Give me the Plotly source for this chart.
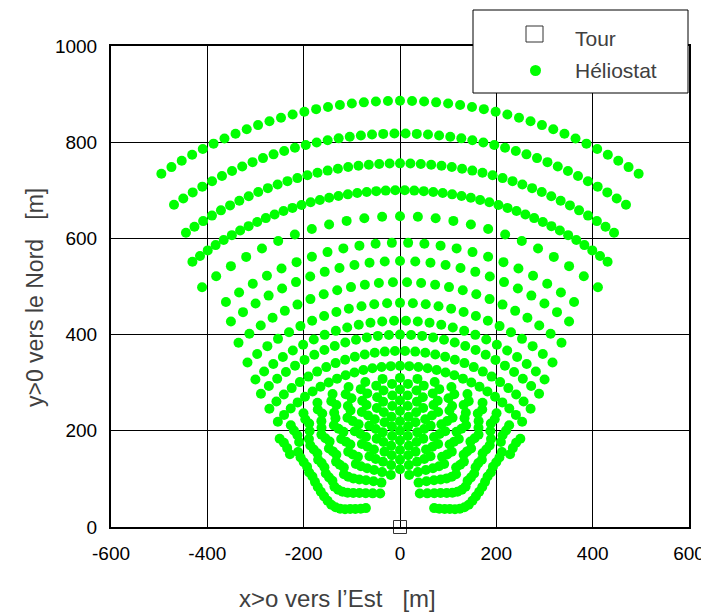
import numpy as np
import plotly.graph_objects as go

# ---- Heliostat field ----
# each row: radius from the tower [m], half angular extent from North [deg],
# number of heliostats in the row, central gap half-angle [deg]
ROW_RADIUS = [886, 818, 756, 700,
              646, 591, 553, 509, 466, 429, 400, 366, 335,
              310, 298, 286, 274, 263, 252, 241, 230, 220, 210, 200, 190, 180, 170,
              160, 150, 140, 130, 120, 110, 100, 90, 81]
ROW_HALF_ANGLE = [34.0, 35.0, 36.0, 38.0,
                  39.5, 37.7, 39.4, 41.2, 42.8, 44.4, 46.2, 47.8, 49.2,
                  53.7, 54.0, 55.0, 56.5, 53.6, 55.0, 56.0, 57.0, 59.0, 60.0, 62.0, 64.0, 66.0, 68.0,
                  70.0, 72.0, 73.0, 73.0, 72.0, 70.0, 68.0, 65.0, 61.0]
ROW_COUNT = [43, 44, 45, 48,
             25, 24, 25, 26, 27, 28, 29, 30, 31,
             17, 18, 17, 18, 15, 16, 15, 14, 15, 14, 13, 14, 13, 12,
             13, 12, 11, 10, 9, 8, 7, 6, 5]
ROW_GAP = [0, 0, 0, 0,
           0, 0, 0, 0, 0, 0, 0, 0, 0,
           0, 0, 0, 0, 0, 0, 0, 0, 0, 0, 0, 0, 0, 0,
           0, 0, 0, 0, 0, 5, 12, 20, 25]

TOWER_X = [0]
TOWER_Y = [0]

X_TICKS = [-600, -400, -200, 0, 200, 400, 600]
X_TICK_TEXT = ["-600", "-400", "-200", "0", "200", "400", "600"]
Y_TICKS = [0, 200, 400, 600, 800, 1000]
Y_TICK_TEXT = ["0", "200", "400", "600", "800", "1000"]

hx, hy = [], []
for r, h, n, g in zip(ROW_RADIUS, ROW_HALF_ANGLE, ROW_COUNT, ROW_GAP):
    for a in np.linspace(-h, h, n):
        if abs(a) + 1e-9 < g:
            continue
        t = np.radians(a)
        hx.append(r * np.sin(t))
        hy.append(r * np.cos(t))

FONT = "Arial, Liberation Sans, sans-serif"
GREY = "#404040"

fig = go.Figure()
fig.add_trace(go.Scatter(
    x=hx, y=hy, mode="markers", name="Héliostat",
    marker=dict(color="#00FF00", size=10, line=dict(width=0)),
    showlegend=False, cliponaxis=False))
fig.add_trace(go.Scatter(
    x=TOWER_X, y=TOWER_Y, mode="markers", name="Tour",
    marker=dict(symbol="square-open", color="#333333", size=13, line=dict(width=1)),
    showlegend=False, cliponaxis=False))

# page offset of the plot div (body margin)
OFF = 8
# plot area in page pixels
L, R, T, B = 111, 689, 46, 527
W, H = R - L, B - T
FIG_W, FIG_H = 701, 605


def px(x):
    return (x - L) / W


def py(y):
    return (B - y) / H


shapes = [
    dict(type="rect", xref="paper", yref="paper", x0=px(473), x1=px(688), y0=py(93), y1=py(10),
         line=dict(color="black", width=1), fillcolor="white", layer="above"),
    dict(type="rect", xref="paper", yref="paper", x0=px(526), x1=px(543), y0=py(42), y1=py(26),
         line=dict(color="#333333", width=1), fillcolor="white", layer="above"),
    dict(type="circle", xref="paper", yref="paper", x0=px(530), x1=px(541), y0=py(76), y1=py(65),
         line=dict(color="#00FF00", width=0), fillcolor="#00FF00", layer="above"),
]
annotations = [
    dict(xref="paper", yref="paper", x=px(573), y=py(39), text="Tour", showarrow=False,
         xanchor="left", yanchor="middle", font=dict(family=FONT, size=21, color=GREY)),
    dict(xref="paper", yref="paper", x=px(573), y=py(70), text="Héliostat", showarrow=False,
         xanchor="left", yanchor="middle", font=dict(family=FONT, size=21, color=GREY)),
    # axis titles
    dict(xref="paper", yref="paper", x=px(337), y=py(598),
         text="x>o vers l’Est\u00a0\u00a0\u00a0[m]", showarrow=False,
         xanchor="center", yanchor="middle", font=dict(family=FONT, size=24, color=GREY)),
    dict(xref="paper", yref="paper", x=px(35), y=py(298),
         text="y>0 vers le Nord\u00a0\u00a0\u00a0[m]", showarrow=False, textangle=-90,
         xanchor="center", yanchor="middle", font=dict(family=FONT, size=23, color=GREY)),
]

axis_common = dict(
    showline=True, linecolor="black", linewidth=2, mirror=True,
    showgrid=True, gridcolor="black", gridwidth=1,
    zeroline=False, ticks="", automargin=False,
    tickfont=dict(family=FONT, size=19, color="black"),
)

fig.update_layout(
    width=FIG_W, height=FIG_H,
    margin=dict(l=L - OFF, r=FIG_W - (R - OFF), t=T - OFF, b=FIG_H - (B - OFF)),
    paper_bgcolor="white", plot_bgcolor="white",
    xaxis=dict(range=[-600, 600], tickmode="array", tickvals=X_TICKS, ticktext=X_TICK_TEXT,
               ticklabelstandoff=8, **axis_common),
    yaxis=dict(range=[0, 1000], tickmode="array", tickvals=Y_TICKS, ticktext=Y_TICK_TEXT,
               ticklabelstandoff=8, **axis_common),
    shapes=shapes, annotations=annotations,
    showlegend=False,
)

fig.write_html("out.html")
